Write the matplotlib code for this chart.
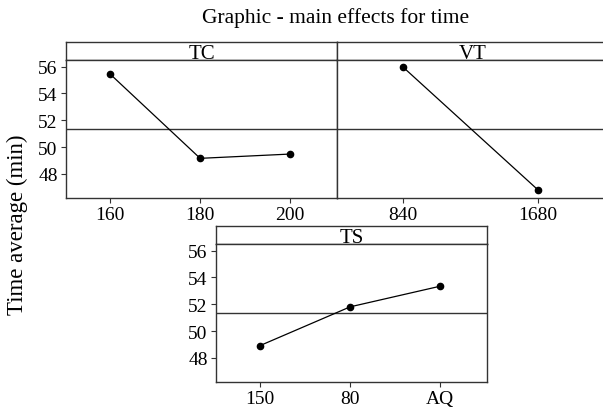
import matplotlib

matplotlib.use("Agg")

import matplotlib.pyplot as plt

plt.rcParams["font.family"] = ["Liberation Serif", "DejaVu Serif"]

TITLE = "Graphic - main effects for time"
YLABEL = "Time average (min)"

tc_levels = ["160", "180", "200"]
tc_means = [55.45, 49.16, 49.48]

vt_levels = ["840", "1680"]
vt_means = [55.97, 46.81]

ts_levels = ["150", "80", "AQ"]
ts_means = [48.92, 51.81, 53.35]

grand_mean = 51.35
y_ticks = [48, 50, 52, 54, 56]

W, H = 603, 414
FRAME = "#333333"


def px_axes(fig, left, top, width, height):
    return fig.add_axes([left / W, 1 - (top + height) / H, width / W, height / H])


def draw_panel(fig, left, top, name, levels, means, show_y=True):
    strip = px_axes(fig, left, top, 271, 18)
    strip.set_xticks([])
    strip.set_yticks([])
    strip.text(0.5, 0.12, name, ha="center", va="baseline", fontsize=15,
               transform=strip.transAxes)
    for s in strip.spines.values():
        s.set_color(FRAME)
        s.set_linewidth(1.0)

    ax = px_axes(fig, left, top + 18, 271, 138)
    x = list(range(len(levels)))
    ax.axhline(grand_mean, color=FRAME, linewidth=1.0)
    ax.plot(x, means, color="black", linewidth=0.9, marker="o", markersize=4.5)
    ax.set_xlim(-0.49, len(levels) - 0.48)
    ax.set_ylim(46.2, 56.5)
    ax.set_xticks(x)
    ax.set_xticklabels(levels)
    ax.tick_params(axis="x", length=3.5, color=FRAME, labelsize=14, pad=2)
    if show_y:
        ax.set_yticks(y_ticks)
        ax.tick_params(axis="y", length=3.5, color=FRAME, labelsize=14, pad=2.5)
    else:
        ax.set_yticks([])
    for s in ax.spines.values():
        s.set_color(FRAME)
        s.set_linewidth(1.0)
    return ax


fig = plt.figure(figsize=(W / 100, H / 100), dpi=100)

draw_panel(fig, 66, 43, "TC", tc_levels, tc_means)
draw_panel(fig, 337, 43, "VT", vt_levels, vt_means, show_y=False)
draw_panel(fig, 216, 227, "TS", ts_levels, ts_means)

fig.text(335.5 / W, 1 - 23 / H, TITLE, ha="center", va="baseline", fontsize=15.5)
fig.text(17.5 / W, 1 - 225 / H, YLABEL, ha="center", va="center",
         rotation=90, fontsize=16.5)

fig.savefig("out.png", dpi=100)
